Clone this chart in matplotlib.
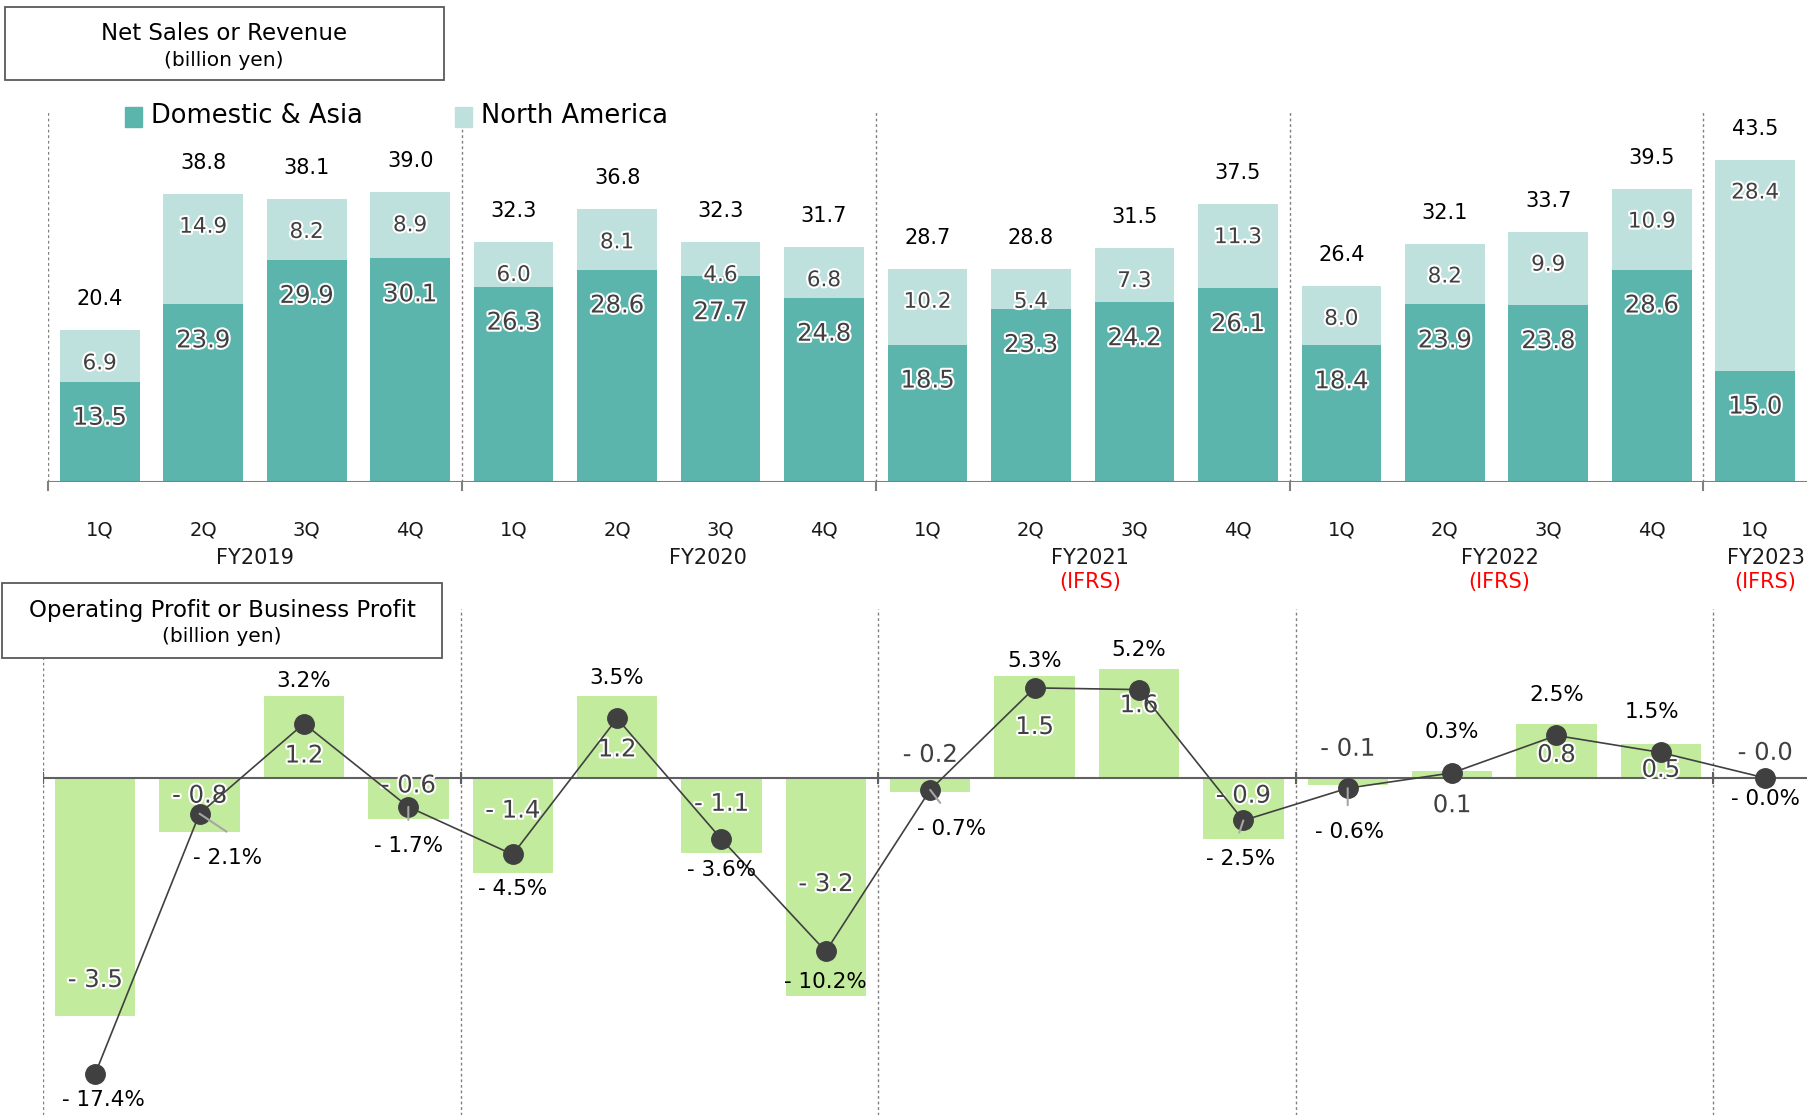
import matplotlib
matplotlib.use("Agg")
import matplotlib.pyplot as plt
import matplotlib.patheffects as pe
from matplotlib.patches import Rectangle
import numpy as np

# ---- data (billion yen) ----
quarters = ["1Q", "2Q", "3Q", "4Q"] * 4 + ["1Q"]
fiscal_years = ["FY2019", "FY2020", "FY2021", "FY2022", "FY2023"]
ifrs = [False, False, True, True, True]
group_sizes = [4, 4, 4, 4, 1]

domestic = [13.5, 23.9, 29.9, 30.1, 26.3, 28.6, 27.7, 24.8, 18.5, 23.3, 24.2, 26.1,
            18.4, 23.9, 23.8, 28.6, 15.0]
north_america = [6.9, 14.9, 8.2, 8.9, 6.0, 8.1, 4.6, 6.8, 10.2, 5.4, 7.3, 11.3,
                 8.0, 8.2, 9.9, 10.9, 28.4]
totals = [20.4, 38.8, 38.1, 39.0, 32.3, 36.8, 32.3, 31.7, 28.7, 28.8, 31.5, 37.5,
          26.4, 32.1, 33.7, 39.5, 43.5]

profit = [-3.5, -0.8, 1.2, -0.6, -1.4, 1.2, -1.1, -3.2, -0.2, 1.5, 1.6, -0.9,
          -0.1, 0.1, 0.8, 0.5, -0.0]
margin = [-17.4, -2.1, 3.2, -1.7, -4.5, 3.5, -3.6, -10.2, -0.7, 5.3, 5.2, -2.5,
          -0.6, 0.3, 2.5, 1.5, -0.0]

# ---- label placement (layout only) ----
fy_pos = [1.5, 5.88, 9.57, 13.53, 16.1]
profit_label_y = [-2.97, -0.26, 0.33, -0.11, -0.48, 0.42, -0.38, -1.56, 0.34, 0.75,
                  1.07, -0.26, 0.43, -0.40, 0.34, 0.12, 0.37]
margin_label_y = [-18.8, -4.6, 5.8, -3.9, -6.4, 6.0, -5.3, -11.9, -2.9, 7.0, 7.65,
                  -4.65, -3.06, 2.8, 5.0, 4.0, -1.1]
margin_label_dx = [8, 28, 0, 0, 0, 0, 0, 0, 21, 0, 0, -3, 2, 0, 0, -9, 0]
leaders = {1: (27, -18), 3: (0, -13), 8: (10, -13), 11: (-4, -12), 12: (0, -17)}

C_DOM = "#5bb5ac"
C_NA = "#bfe1de"
C_GREEN = "#c3eb9d"
C_DARK = "#404040"
C_GRID = "#808080"

W, H = 1808, 1115


def fx(px):
    return px / W


def fy(py):
    return 1 - py / H


def fmt(v, pct=False):
    s = f"{abs(v):.1f}" + ("%" if pct else "")
    return "- " + s if np.signbit(v) else s


halo = [pe.withStroke(linewidth=3, foreground="white")]

fig = plt.figure(figsize=(W / 100, H / 100), dpi=100)

x = np.arange(len(quarters))
bounds = np.cumsum([0] + group_sizes[:-1]) - 0.5

# ================= top: net sales =================
ax = fig.add_axes([fx(48), fy(482), 1 - fx(48), (482 - 110) / H])
ax.set_xlim(-0.5, 16.51)
ax.set_ylim(0, 50.07)
ax.axis("off")

ax.bar(x, domestic, width=0.77, color=C_DOM, zorder=2)
ax.bar(x, north_america, width=0.77, bottom=domestic, color=C_NA, zorder=2)
ax.axhline(0, color=C_GRID, lw=1.5, zorder=3)
for b in bounds:
    ax.axvline(b, color=C_GRID, lw=1, ls=(0, (2, 2)), zorder=1)
    ax.plot([b, b], [0, -1.1], color=C_GRID, lw=1.5, clip_on=False)

for i in x:
    top = domestic[i] + north_america[i]
    ax.annotate(f"{totals[i]:.1f}", (i, top), xytext=(0, 31), textcoords="offset pixels",
                ha="center", va="center", fontsize=15, color="black")
    ax.annotate(f"{north_america[i]:.1f}", (i, top), xytext=(0, -33),
                textcoords="offset pixels", ha="center", va="center", fontsize=15.5,
                color=C_DARK, path_effects=halo, zorder=5)
    ax.annotate(f"{domestic[i]:.1f}", (i, domestic[i]), xytext=(0, -36),
                textcoords="offset pixels", ha="center", va="center", fontsize=17.5,
                color=C_DARK, path_effects=halo, zorder=5)
    ax.annotate(quarters[i], (i, 0), xytext=(0, -48), textcoords="offset pixels",
                ha="center", va="center", fontsize=14, color="#1a1a1a")

for name, pos, red in zip(fiscal_years, fy_pos, ifrs):
    ax.annotate(name, (pos, 0), xytext=(0, -76), textcoords="offset pixels",
                ha="center", va="center", fontsize=15, color="#1a1a1a")
    if red:
        ax.annotate("(IFRS)", (pos, 0), xytext=(0, -100), textcoords="offset pixels",
                    ha="center", va="center", fontsize=15, color="red")

# legend
fig.patches.append(Rectangle((fx(125), fy(127)), 17 / W, 20 / H, color=C_DOM,
                             transform=fig.transFigure))
fig.text(fx(151), fy(116), "Domestic & Asia", fontsize=18.5, va="center", ha="left")
fig.patches.append(Rectangle((fx(455), fy(127)), 17 / W, 20 / H, color=C_NA,
                             transform=fig.transFigure))
fig.text(fx(481), fy(116), "North America", fontsize=18.5, va="center", ha="left")

# title box
fig.patches.append(Rectangle((fx(5), fy(80)), 439 / W, 73 / H, fill=False,
                             edgecolor="#595959", lw=1.3, transform=fig.transFigure))
fig.text(fx(224), fy(33), "Net Sales or Revenue", fontsize=16.5, ha="center", va="center")
fig.text(fx(224), fy(60), "(billion yen)", fontsize=14.5, ha="center", va="center")

# ================= bottom: operating profit =================
axb = fig.add_axes([fx(43), 0, 1 - fx(43), (1115 - 609) / H])
axb.set_xlim(-0.5, 16.41)
axb.set_ylim(-4.956, 2.485)
axb.axis("off")
ax2 = axb.twinx()
ax2.set_ylim(-4.956 * 4, 2.485 * 4)
ax2.axis("off")

axb.bar(x, profit, width=0.77, color=C_GREEN, zorder=2)
axb.axhline(0, color="#606060", lw=1.5, zorder=3)
for b in bounds:
    axb.axvline(b, color=C_GRID, lw=1, ls=(0, (2, 2)), zorder=1)
    axb.plot([b, b], [-0.08, 0.08], color="#606060", lw=1.5, zorder=3)

for i in x:
    axb.text(i, profit_label_y[i], fmt(profit[i]), ha="center", va="center",
             fontsize=17.5, color=C_DARK, path_effects=halo, zorder=6)

ax2.plot(x, margin, color=C_DARK, lw=1.2, marker="o", markersize=14,
         markerfacecolor=C_DARK, markeredgecolor=C_DARK, zorder=4)
for i in x:
    ax2.annotate(fmt(margin[i], pct=True), (i, margin_label_y[i]),
                 xytext=(margin_label_dx[i], -2), textcoords="offset pixels",
                 ha="center", va="center", fontsize=15.5, color="black", zorder=7)
for i, (dx, dy) in leaders.items():
    ax2.annotate("", (i, margin[i]), xytext=(dx, dy), textcoords="offset pixels",
                 arrowprops=dict(arrowstyle="-", color="#a6a6a6", lw=1.5,
                                 shrinkA=0, shrinkB=0), zorder=8)

fig.patches.append(Rectangle((fx(2), fy(658)), 440 / W, 75 / H, facecolor="white",
                             edgecolor="#595959", lw=1.3, transform=fig.transFigure,
                             zorder=10))
fig.text(fx(222), fy(611), "Operating Profit or Business Profit", fontsize=16.5,
         ha="center", va="center", zorder=11)
fig.text(fx(222), fy(637), "(billion yen)", fontsize=14.5, ha="center", va="center",
         zorder=11)

fig.savefig("out.png", dpi=100)
